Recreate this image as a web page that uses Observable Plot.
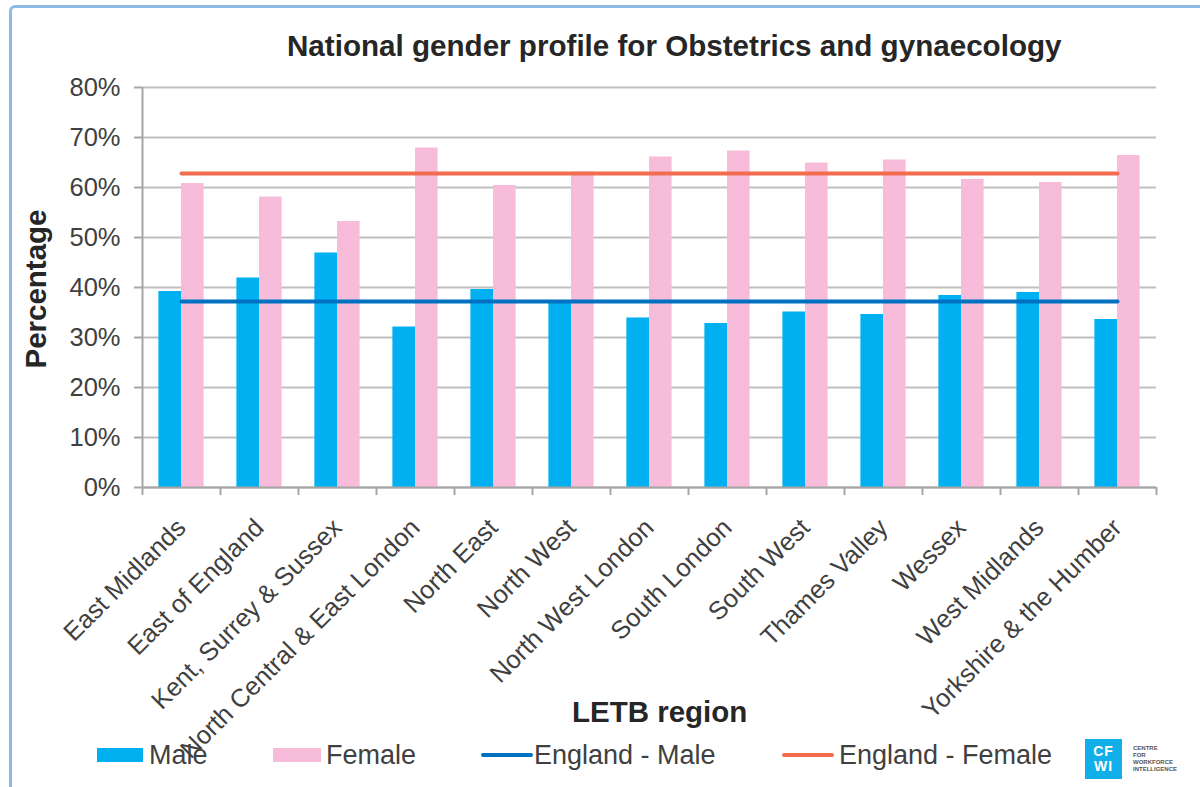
<!DOCTYPE html>
<html>
<head>
<meta charset="utf-8">
<script src="https://cdn.jsdelivr.net/npm/d3@7"></script>
<script src="https://cdn.jsdelivr.net/npm/@observablehq/plot@0.6"></script>
<style>
  html, body { margin: 0; padding: 0; background: #fff; }
  #wrap { position: relative; width: 1200px; height: 787px; overflow: hidden; background: #fff;
          font-family: "Liberation Sans", Arial, sans-serif; color: #404040; }
  #border { position: absolute; left: 9px; top: 5px; width: 1220px; height: 820px;
            border: 3px solid #8dbbe4; border-radius: 6px; box-sizing: border-box; }
  #chart { position: absolute; left: 0; top: 0; }
  .abs { position: absolute; white-space: nowrap; line-height: 1; }
  .title { font-weight: bold; font-size: 29.6px; color: #262626; }
  .axlab { font-weight: bold; font-size: 29.5px; color: #262626; }
  .leg { font-size: 27px; color: #404040; }
</style>
</head>
<body>
<div id="wrap">
  <div id="border"></div>
  <div id="chart"></div>
</div>
<script>
// ---- data ----
const categories = ["East Midlands", "East of England", "Kent, Surrey & Sussex", "North Central & East London",
  "North East", "North West", "North West London", "South London", "South West", "Thames Valley",
  "Wessex", "West Midlands", "Yorkshire & the Humber"];
const maleValues   = [39.2, 41.9, 46.9, 32.1, 39.6, 36.9, 33.9, 32.8, 35.1, 34.6, 38.4, 39.0, 33.6];
const femaleValues = [60.8, 58.1, 53.2, 67.9, 60.4, 63.1, 66.1, 67.3, 64.9, 65.5, 61.6, 61.0, 66.4];
const englandMale = 37.2;
const englandFemale = 62.8;
const yTicks = [0, 10, 20, 30, 40, 50, 60, 70, 80];
const seriesNames = ["Male", "Female", "England - Male", "England - Female"];
const seriesColors = ["#00b0f0", "#f7bcd9", "#0070c0", "#f26c4f"];

const rows = categories.map((c, i) => ({category: c, male: maleValues[i], female: femaleValues[i]}));

// ---- layout ----
const W = 1200, H = 787;
const mL = 142, mR = 44, mT = 87, mB = 300;
const bw = (W - mL - mR) / categories.length;
const gridColor = "#bfbfbf";
const axisColor = "#a6a6a6";

const chart = Plot.plot({
  width: W, height: H,
  marginLeft: mL, marginRight: mR, marginTop: mT, marginBottom: mB,
  style: {fontFamily: "'Liberation Sans', Arial, sans-serif", background: "transparent", overflow: "visible"},
  x: {domain: categories, padding: 0, label: null},
  y: {domain: [0, 80], label: null},
  marks: [
    Plot.gridY(yTicks, {stroke: gridColor, strokeOpacity: 1, strokeWidth: 2}),
    Plot.barY(rows, {x: "category", y: "male", fill: seriesColors[0], insetLeft: bw * 0.21, insetRight: bw * 0.5}),
    Plot.barY(rows, {x: "category", y: "female", fill: seriesColors[1], insetLeft: bw * 0.5, insetRight: bw * 0.21}),
    Plot.lineY(rows, {x: "category", y: () => englandMale, stroke: seriesColors[2], strokeWidth: 4, strokeLinecap: "round"}),
    Plot.lineY(rows, {x: "category", y: () => englandFemale, stroke: seriesColors[3], strokeWidth: 4, strokeLinecap: "round"}),
    // y axis line
    Plot.ruleX([categories[0]], {y1: 0, y2: 80, dx: -bw / 2, stroke: axisColor, strokeWidth: 2}),
    // x axis line
    Plot.ruleY([0], {stroke: axisColor, strokeWidth: 2}),
    // category boundary ticks
    Plot.ruleX(categories, {y1: 0, y2: 0, insetBottom: -8, dx: -bw / 2, stroke: axisColor, strokeWidth: 2}),
    Plot.ruleX([categories[categories.length - 1]], {y1: 0, y2: 0, insetBottom: -8, dx: bw / 2, stroke: axisColor, strokeWidth: 2}),
    Plot.axisY(yTicks, {tickFormat: d => d + "%", tickSize: 8, tickPadding: 14, fontSize: 25.5,
      stroke: axisColor, strokeWidth: 2, fill: "#404040", label: null}),
    Plot.axisX({tickRotate: -45, tickSize: 0, tickPadding: 36, fontSize: 25.5, fill: "#404040", label: null})
  ]
});
document.getElementById("chart").appendChild(chart);

// ---- text overlays ----
const wrap = document.getElementById("wrap");
function addDiv(cls, text, css) {
  const d = document.createElement("div");
  d.className = "abs " + cls;
  d.textContent = text;
  Object.assign(d.style, css);
  wrap.appendChild(d);
  return d;
}
addDiv("title", "National gender profile  for Obstetrics  and gynaecology", {left: "287px", top: "31px"});
addDiv("axlab", "LETB region", {left: "572px", top: "697px"});
addDiv("axlab", "Percentage", {left: "36px", top: "289px", transform: "translate(-50%, -50%) rotate(-90deg)"});

// ---- legend ----
function swatch(left, top, w, h, color, radius) {
  const d = document.createElement("div");
  Object.assign(d.style, {position: "absolute", left: left + "px", top: top + "px", width: w + "px", height: h + "px",
    background: color, borderRadius: (radius || 0) + "px"});
  wrap.appendChild(d);
}
swatch(97, 748, 46, 14, seriesColors[0]);
addDiv("leg", seriesNames[0], {left: "149px", top: "742px"});
swatch(273, 748, 48, 14, seriesColors[1]);
addDiv("leg", seriesNames[1], {left: "326px", top: "742px"});
swatch(481, 753, 52, 4, seriesColors[2], 2);
addDiv("leg", seriesNames[2], {left: "534px", top: "742px"});
swatch(782, 753, 52, 4, seriesColors[3], 2);
addDiv("leg", seriesNames[3], {left: "839px", top: "742px"});

// ---- logo ----
const logo = document.createElement("div");
Object.assign(logo.style, {position: "absolute", left: "1085px", top: "739px", width: "37px", height: "40px",
  background: "#12aeea", color: "#fff", fontSize: "14px", fontWeight: "bold", lineHeight: "15px",
  textAlign: "center", paddingTop: "5px", boxSizing: "border-box", letterSpacing: "1px"});
logo.innerHTML = "CF<br>WI";
wrap.appendChild(logo);
const logoTxt = document.createElement("div");
Object.assign(logoTxt.style, {position: "absolute", left: "1133px", top: "745px", fontSize: "6px", lineHeight: "7px",
  color: "#555", fontWeight: "bold"});
logoTxt.innerHTML = "CENTRE<br>FOR<br>WORKFORCE<br>INTELLIGENCE";
wrap.appendChild(logoTxt);
</script>
</body>
</html>
